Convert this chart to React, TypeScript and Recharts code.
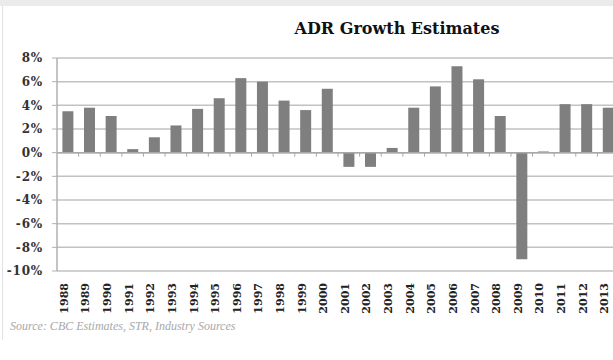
import { BarChart, Bar, XAxis, YAxis, CartesianGrid, ReferenceLine } from 'recharts'

// ADR growth by year, in percent
const years = [
  '1988', '1989', '1990', '1991', '1992', '1993', '1994', '1995', '1996', '1997',
  '1998', '1999', '2000', '2001', '2002', '2003', '2004', '2005', '2006', '2007',
  '2008', '2009', '2010', '2011', '2012', '2013',
]
const adrGrowth = [
  3.5, 3.8, 3.1, 0.3, 1.3, 2.3, 3.7, 4.6, 6.3, 6.0,
  4.4, 3.6, 5.4, -1.2, -1.2, 0.4, 3.8, 5.6, 7.3, 6.2,
  3.1, -9.0, 0.1, 4.1, 4.1, 3.8,
]
const yTicks = [-10, -8, -6, -4, -2, 0, 2, 4, 6, 8]

const data = years.map((year, i) => ({ year, adr: adrGrowth[i] }))

const serif = '"DejaVu Serif", "Liberation Serif", serif'

function YearTick({ x, y, payload }: any) {
  return (
    <text
      x={x}
      y={y}
      transform={`rotate(-90 ${x} ${y})`}
      textAnchor="end"
      fontFamily={serif}
      fontWeight="bold"
      fontSize={11}
      fill="#222"
    >
      {payload.value}
    </text>
  )
}

// zero line with small tick marks between categories
function ZeroAxis(props: any) {
  const { x1, y1, x2 } = props
  if (x1 == null) return null
  const step = (x2 - x1) / years.length
  return (
    <g>
      <line x1={x1} y1={y1} x2={x2} y2={y1} stroke="#a8a8a8" strokeWidth={1.5} />
      {years.map((_, i) => (
        <line
          key={i}
          x1={x1 + step * (i + 1)}
          x2={x1 + step * (i + 1)}
          y1={y1}
          y2={y1 + 4}
          stroke="#a8a8a8"
          strokeWidth={1}
        />
      ))}
    </g>
  )
}

export default function App() {
  return (
    <div
      style={{
        position: 'absolute',
        left: 0,
        top: 0,
        width: 613,
        height: 360,
        overflow: 'hidden',
        background: '#fff',
      }}
    >
      <div style={{ position: 'absolute', left: 0, top: 0, width: 613, height: 6, background: '#ebebeb' }} />
      <div style={{ position: 'absolute', left: 2, top: 6, width: 1, height: 334, background: '#e2e2e2' }} />
      <div
        style={{
          position: 'absolute',
          left: 197,
          top: 19,
          width: 400,
          textAlign: 'center',
          fontFamily: serif,
          fontWeight: 'bold',
          fontSize: 16,
          color: '#111',
        }}
      >
        ADR Growth Estimates
      </div>
      <div
        style={{
          position: 'absolute',
          left: 10,
          top: 319,
          fontFamily: '"Liberation Serif"',
          fontStyle: 'italic',
          fontSize: 12,
          color: '#a8a8a8',
          whiteSpace: 'nowrap',
        }}
      >
        Source: CBC Estimates, STR, Industry Sources
      </div>
      <div style={{ position: 'absolute', left: 0, top: 0 }}>
        <BarChart
          width={625}
          height={360}
          data={data}
          margin={{ top: 58, right: 6, bottom: 0, left: 0 }}
          barCategoryGap="25%"
        >
          <CartesianGrid vertical={false} stroke="#c2c2c2" strokeWidth={1.5} />
          <XAxis
            dataKey="year"
            interval={0}
            axisLine={false}
            tickLine={false}
            tickSize={0}
            tickMargin={12}
            height={89}
            tick={<YearTick />}
          />
          <YAxis
            width={57}
            domain={[-10, 8]}
            ticks={yTicks}
            interval={0}
            tickFormatter={(v: number) => `${v}%`}
            axisLine={{ stroke: '#b0b0b0', strokeWidth: 1.5 }}
            tickLine={{ stroke: '#b0b0b0' }}
            tickSize={5}
            tickMargin={9}
            tick={{ fontFamily: serif, fontWeight: 'bold', fontSize: 12, fill: '#333', letterSpacing: 0.8 }}
          />
          <Bar dataKey="adr" fill="#7f7f7f" isAnimationActive={false} />
          <ReferenceLine y={0} shape={<ZeroAxis />} />
        </BarChart>
      </div>
    </div>
  )
}
